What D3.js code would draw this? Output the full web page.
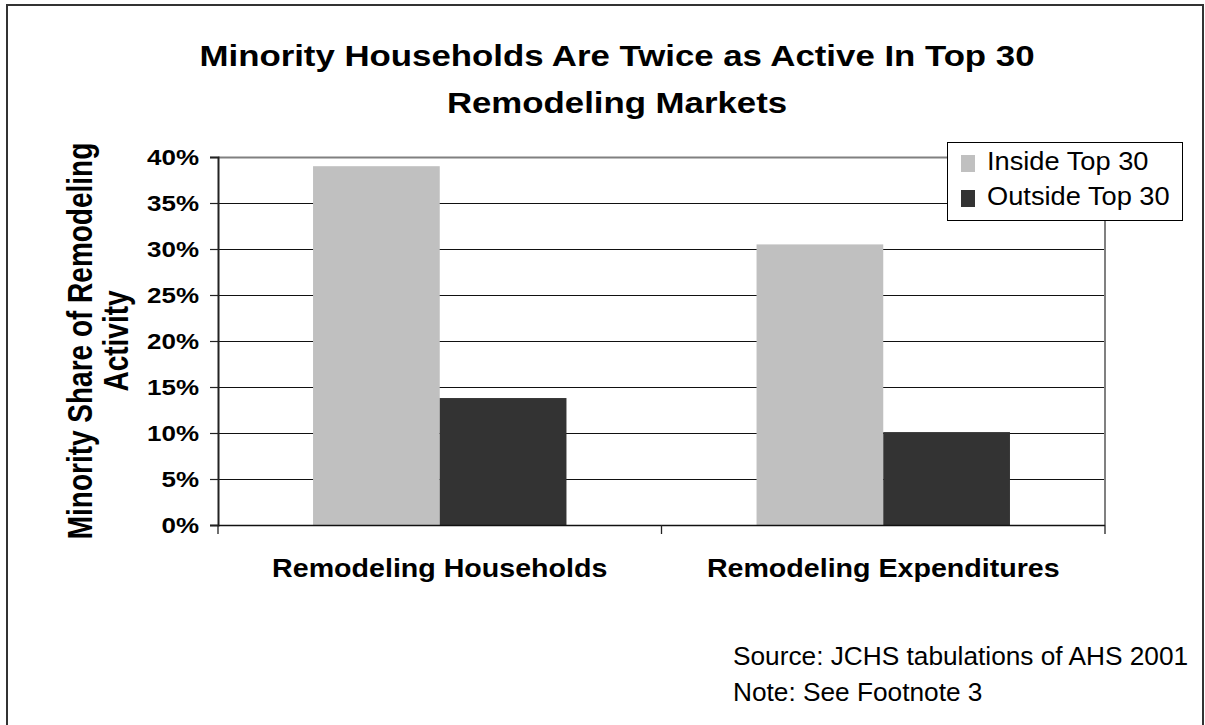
<!DOCTYPE html>
<html>
<head>
<meta charset="utf-8">
<script src="https://cdn.jsdelivr.net/npm/d3@7"></script>
<style>
  html, body { margin: 0; padding: 0; background: #fff; }
  svg { display: block; font-family: "Liberation Sans", Arial, sans-serif; }
</style>
</head>
<body>
<svg id="chart" width="1205" height="725"></svg>
<script>
// ---- data ----
const categories = ["Remodeling Households", "Remodeling Expenditures"];
const seriesNames = ["Inside Top 30", "Outside Top 30"];
const insideTop30 = [0.390, 0.305];
const outsideTop30 = [0.138, 0.101];
const yTickValues = [0, 0.05, 0.10, 0.15, 0.20, 0.25, 0.30, 0.35, 0.40];
const yTickLabels = ["0%", "5%", "10%", "15%", "20%", "25%", "30%", "35%", "40%"];
const titleLines = ["Minority Households Are Twice as Active In Top 30", "Remodeling Markets"];
const yTitleLines = ["Minority Share of Remodeling", "Activity"];
const notes = ["Source: JCHS tabulations of AHS 2001", "Note: See Footnote 3"];
const seriesColors = ["#c0c0c0", "#333333"];

const seriesValues = [insideTop30, outsideTop30];
const FONT = '"Liberation Sans", Arial, sans-serif';

const svg = d3.select("#chart");
const plot = { left: 218, right: 1105, top: 157, bottom: 525 };

// text drawn with a horizontal stretch, the way the original export renders it
function wideText(parent, x, y, str, o) {
  const g = parent.append("g")
    .attr("transform", `translate(${x},${y}) scale(${o.sx},1)` + (o.rotate ? ` rotate(${o.rotate})` : ""));
  return g.append("text")
    .attr("text-anchor", o.anchor || "start")
    .attr("font-size", o.size)
    .attr("font-weight", o.weight || "normal")
    .attr("font-family", FONT)
    .attr("fill", "#000")
    .text(str);
}

// outer chart frame
svg.append("rect")
  .attr("x", 7).attr("y", 5).attr("width", 1196).attr("height", 740)
  .attr("fill", "#fff").attr("stroke", "#333").attr("stroke-width", 2);

// ---- scales ----
const x0 = d3.scaleBand().domain(categories).range([plot.left, plot.right]).padding(0);
const x1 = d3.scaleBand().domain(seriesNames).range([0, x0.bandwidth()])
  .paddingInner(0).paddingOuter(0.75);
const y = d3.scaleLinear().domain([0, 0.40]).range([plot.bottom, plot.top]);

// ---- gridlines ----
svg.append("g").selectAll("line")
  .data(yTickValues.filter(v => v > 0 && v < 0.40))
  .join("line")
  .attr("x1", plot.left).attr("x2", plot.right)
  .attr("y1", d => Math.round(y(d)) + 0.5).attr("y2", d => Math.round(y(d)) + 0.5)
  .attr("stroke", "#111").attr("stroke-width", 1);

// plot area border (top and right)
svg.append("path")
  .attr("d", `M${plot.left},${plot.top + 0.5}H${plot.right}V${plot.bottom}`)
  .attr("fill", "none").attr("stroke", "#808080").attr("stroke-width", 2);

// ---- bars ----
const groups = svg.append("g").selectAll("g")
  .data(categories)
  .join("g")
  .attr("transform", d => `translate(${x0(d)},0)`);

groups.selectAll("rect")
  .data((c, ci) => seriesNames.map((s, si) => ({ s, si, v: seriesValues[si][ci] })))
  .join("rect")
  .attr("x", d => x1(d.s))
  .attr("width", x1.bandwidth())
  .attr("y", d => y(d.v))
  .attr("height", d => y(0) - y(d.v))
  .attr("fill", d => seriesColors[d.si]);

// ---- y axis ----
const tickSx = 1.18;
const yAxis = svg.append("g")
  .attr("transform", `translate(${plot.left},0)`)
  .call(d3.axisLeft(y)
    .tickValues(yTickValues)
    .tickFormat((d, i) => yTickLabels[i])
    .tickSize(8)
    .tickPadding(11));
yAxis.attr("font-family", FONT).attr("font-size", 22).attr("font-weight", "bold").attr("color", "#000");
yAxis.select(".domain").attr("stroke", "#222").attr("stroke-width", 2);
yAxis.selectAll(".tick line").attr("stroke", "#222").attr("stroke-width", 1.2);
yAxis.selectAll(".tick text")
  .attr("x", -19 / tickSx)
  .attr("transform", `scale(${tickSx},1)`)
  .attr("fill", "#000");

// ---- x axis ----
svg.append("line")
  .attr("x1", plot.left).attr("x2", plot.right)
  .attr("y1", plot.bottom + 0.5).attr("y2", plot.bottom + 0.5)
  .attr("stroke", "#111").attr("stroke-width", 1.5);

const boundaries = categories.map(c => x0(c)).concat([x0(categories[categories.length - 1]) + x0.bandwidth()]);
svg.append("g").selectAll("line")
  .data(boundaries)
  .join("line")
  .attr("x1", d => d).attr("x2", d => d)
  .attr("y1", plot.bottom).attr("y2", plot.bottom + 9)
  .attr("stroke", "#222").attr("stroke-width", 1.3);

const catLayer = svg.append("g");
categories.forEach(c => {
  wideText(catLayer, x0(c) + x0.bandwidth() / 2, 577, c,
    { sx: 1.1, size: 26, weight: "bold", anchor: "middle" });
});

// ---- title ----
const titleLayer = svg.append("g");
titleLines.forEach((t, i) => {
  wideText(titleLayer, 617, 66 + i * 47, t, { sx: 1.2, size: 29, weight: "bold", anchor: "middle" });
});

// ---- y axis title ----
const yTitleLayer = svg.append("g");
const yMid = (plot.top + plot.bottom) / 2;
yTitleLines.forEach((t, i) => {
  wideText(yTitleLayer, 92 + i * 36, yMid, t,
    { sx: 1.22, size: 28, weight: "bold", anchor: "middle", rotate: -90 });
});

// ---- legend ----
const legend = svg.append("g");
legend.append("rect")
  .attr("x", 947.5).attr("y", 142.5).attr("width", 235).attr("height", 78)
  .attr("fill", "#fff").attr("stroke", "#000").attr("stroke-width", 1);
seriesNames.forEach((s, i) => {
  legend.append("rect")
    .attr("x", 961).attr("y", 155 + i * 35).attr("width", 14).attr("height", 17)
    .attr("fill", seriesColors[i]);
  wideText(legend, 987, 170 + i * 35, s, { sx: 1.09, size: 25 });
});

// ---- notes ----
const noteLayer = svg.append("g");
notes.forEach((n, i) => {
  wideText(noteLayer, 733, 665 + i * 36, n, { sx: 1.05, size: 25 });
});
</script>
</body>
</html>
